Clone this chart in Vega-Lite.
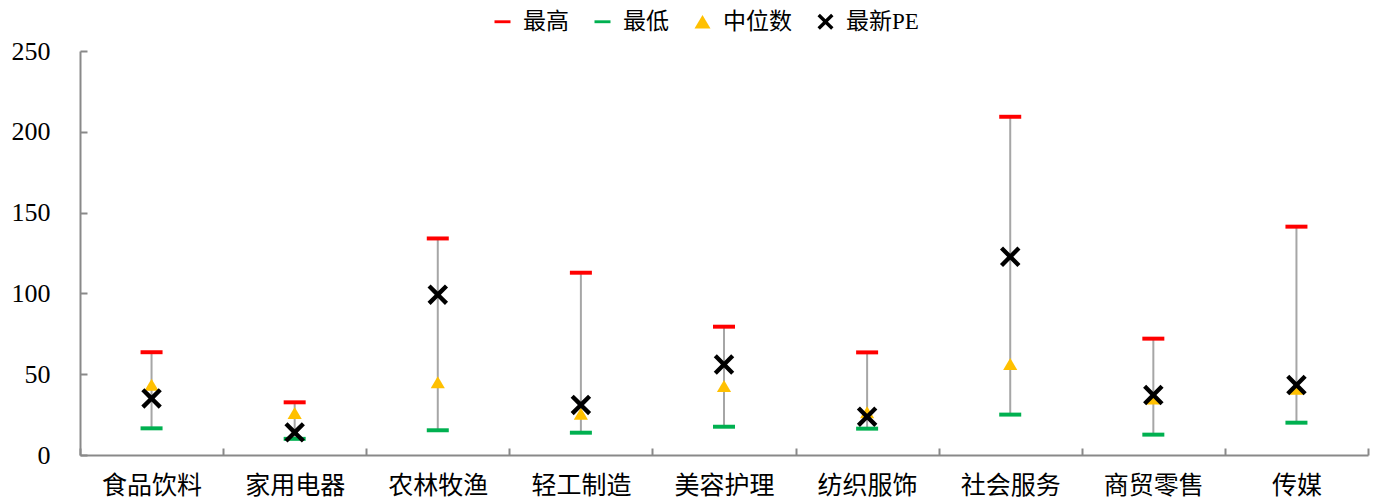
{
  "$schema": "https://vega.github.io/schema/vega-lite/v6.json",
  "width": 1288,
  "height": 404,
  "autosize": {"type": "none"},
  "padding": {"left": 80, "top": 51, "right": 10, "bottom": 49},
  "background": "white",
  "config": {
    "view": {"stroke": null},
    "font": "Liberation Serif, Noto Sans CJK SC",
    "legend": {"padding": 0}
  },
  "data": {
    "values": [
      {"行业": "食品饮料", "最高": 63.6, "最低": 16.5, "中位数": 43.5, "最新PE": 35.0},
      {"行业": "家用电器", "最高": 32.6, "最低": 10.0, "中位数": 26.0, "最新PE": 14.0},
      {"行业": "农林牧渔", "最高": 134.0, "最低": 15.3, "中位数": 45.0, "最新PE": 99.2},
      {"行业": "轻工制造", "最高": 112.8, "最低": 13.8, "中位数": 25.5, "最新PE": 31.0},
      {"行业": "美容护理", "最高": 79.4, "最低": 17.5, "中位数": 42.7, "最新PE": 56.0},
      {"行业": "纺织服饰", "最高": 63.5, "最低": 16.3, "中位数": 26.5, "最新PE": 23.7},
      {"行业": "社会服务", "最高": 209.3, "最低": 25.0, "中位数": 56.3, "最新PE": 122.7},
      {"行业": "商贸零售", "最高": 72.0, "最低": 12.6, "中位数": 35.0, "最新PE": 37.1},
      {"行业": "传媒", "最高": 141.3, "最低": 20.0, "中位数": 41.0, "最新PE": 43.3}
    ]
  },
  "encoding": {
    "x": {
      "field": "行业",
      "type": "nominal",
      "sort": null,
      "scale": {"paddingInner": 0, "paddingOuter": 0},
      "axis": {
        "title": null,
        "labelAngle": 0,
        "labelFont": "Liberation Serif, Noto Sans CJK SC",
        "labelFontSize": 25,
        "labelColor": "#000000",
        "labelPadding": 25,
        "domainColor": "#898989",
        "domainWidth": 2,
        "tickColor": "#898989",
        "tickWidth": 2,
        "tickSize": -7,
        "tickBand": "extent",
        "grid": false
      }
    }
  },
  "layer": [
    {
      "mark": {"type": "rule", "color": "#A6A6A6", "strokeWidth": 2},
      "encoding": {
        "y": {
          "field": "最低",
          "type": "quantitative",
          "scale": {"domain": [0, 250], "nice": false, "zero": true},
          "axis": {
            "title": null,
            "values": [0, 50, 100, 150, 200, 250],
            "labelFont": "Liberation Serif",
            "labelFontSize": 26,
            "labelColor": "#000000",
            "labelPadding": 37,
            "domainColor": "#898989",
            "domainWidth": 2,
            "tickColor": "#898989",
            "tickWidth": 2,
            "tickSize": -7,
            "grid": false
          }
        },
        "y2": {"field": "最高"}
      }
    },
    {
      "transform": [
        {"fold": ["最高", "最低", "中位数", "最新PE"], "as": ["指标", "PE"]}
      ],
      "encoding": {
        "y": {"field": "PE", "type": "quantitative"},
        "color": {
          "field": "指标",
          "type": "nominal",
          "scale": {
            "domain": ["最高", "最低", "中位数", "最新PE"],
            "range": ["#FF0000", "#00B050", "#FFC000", "#000000"]
          },
          "legend": {
            "title": null,
            "orient": "none",
            "direction": "horizontal",
            "legendX": 411,
            "legendY": -41,
            "labelFont": "Liberation Serif, Noto Sans CJK SC",
            "labelFontSize": 23,
            "labelColor": "#000000",
            "symbolSize": 256,
            "symbolStrokeWidth": 0,
            "labelOffset": 9,
            "columnPadding": 22
          }
        },
        "shape": {
          "field": "指标",
          "type": "nominal",
          "scale": {
            "domain": ["最高", "最低", "中位数", "最新PE"],
            "range": [
              "M-1,-0.18H1V0.18H-1Z",
              "M-1,-0.18H1V0.18H-1Z",
              "M0,-0.85L1,0.85L-1,0.85Z",
              "M-0.7,-1L0,-0.3L0.7,-1L1,-0.7L0.3,0L1,0.7L0.7,1L0,0.3L-0.7,1L-1,0.7L-0.3,0L-1,-0.7Z"
            ]
          }
        }
      },
      "layer": [
        {
          "transform": [{"filter": "datum['指标'] === '最高'"}],
          "mark": {"type": "point", "filled": true, "opacity": 1, "size": 484, "strokeWidth": 0}
        },
        {
          "transform": [{"filter": "datum['指标'] === '最低'"}],
          "mark": {"type": "point", "filled": true, "opacity": 1, "size": 484, "strokeWidth": 0}
        },
        {
          "transform": [{"filter": "datum['指标'] === '中位数'"}],
          "mark": {"type": "point", "filled": true, "opacity": 1, "size": 200, "strokeWidth": 0}
        },
        {
          "transform": [{"filter": "datum['指标'] === '最新PE'"}],
          "mark": {"type": "point", "filled": true, "opacity": 1, "size": 420, "strokeWidth": 0}
        }
      ]
    }
  ]
}
